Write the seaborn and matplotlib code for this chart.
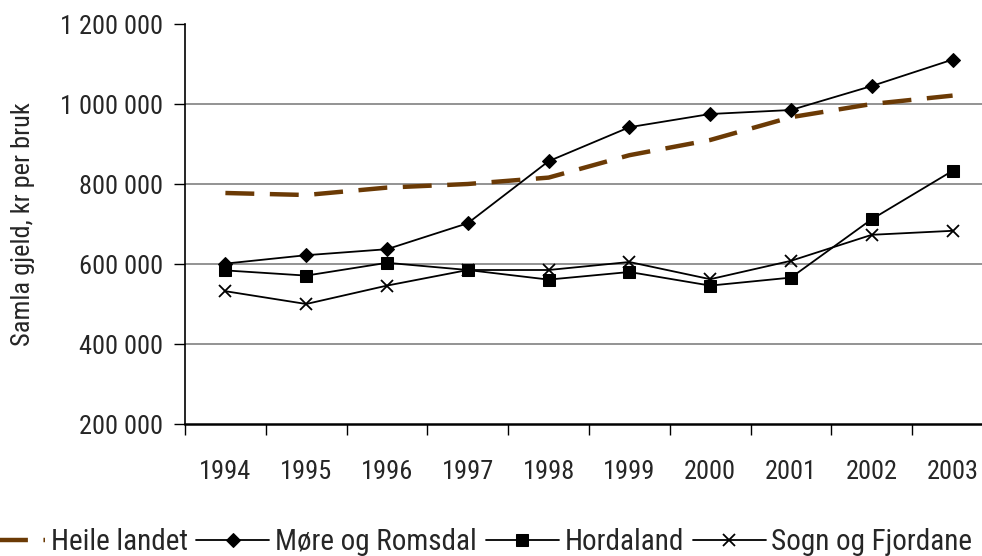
import pandas as pd
import matplotlib
matplotlib.use('Agg')
import matplotlib.pyplot as plt
import matplotlib.ticker as mticker
from matplotlib import font_manager
import seaborn as sns
import numpy as np

years = ['1994', '1995', '1996', '1997', '1998', '1999', '2000', '2001', '2002', '2003']
heile_landet = [777500, 772500, 791000, 800000, 816000, 872000, 910000, 967000, 1000000, 1021000]
more_romsdal = [601000, 622000, 637000, 702000, 857000, 942000, 975000, 985000, 1045000, 1111000]
hordaland = [584000, 571000, 603000, 585000, 561000, 580000, 546000, 566000, 712000, 833000]
sogn_fjordane = [532000, 500000, 546000, 585000, 585000, 605000, 562000, 608000, 673000, 683000]
yticks = [200000, 400000, 600000, 800000, 1000000, 1200000]

# pick a condensed family if one is around
names = {f.name for f in font_manager.fontManager.ttflist}
cands = ['Liberation Sans Narrow', 'Roboto Condensed', 'Open Sans Condensed',
         'DejaVu Sans Condensed', 'Noto Sans Condensed', 'Roboto']
font = next((c for c in cands if c in names), 'DejaVu Sans')
narrow = font != 'Roboto'

sns.set_style('white')
plt.rcParams['font.family'] = [font, 'DejaVu Sans']
if font == 'DejaVu Sans Condensed' or font == 'DejaVu Sans':
    plt.rcParams['font.stretch'] = 'condensed'

fs = 19 if narrow else 17
fs_leg = 21 if narrow else 18
fs_lab = 19 if narrow else 16

df = pd.DataFrame({'x': np.arange(len(years)),
                   'Heile landet': heile_landet,
                   'Møre og Romsdal': more_romsdal,
                   'Hordaland': hordaland,
                   'Sogn og Fjordane': sogn_fjordane})

fig = plt.figure(figsize=(9.82, 5.56), dpi=100)
ax = fig.add_axes([185 / 982, 1 - 424 / 556, 808 / 982, 400 / 556])

sns.lineplot(data=df, x='x', y='Heile landet', ax=ax, color='#6b3a05',
             linewidth=3.2, label='Heile landet')
ax.lines[-1].set_dashes([6.5, 3.5])
sns.lineplot(data=df, x='x', y='Møre og Romsdal', ax=ax, color='black', linewidth=1.3,
             marker='D', markersize=7, markeredgecolor='black', label='Møre og Romsdal')
sns.lineplot(data=df, x='x', y='Hordaland', ax=ax, color='black', linewidth=1.3,
             marker='s', markersize=8, markeredgecolor='black', label='Hordaland')
sns.lineplot(data=df, x='x', y='Sogn og Fjordane', ax=ax, color='black', linewidth=1.3,
             marker='x', markersize=9, markeredgewidth=1.3, markeredgecolor='black',
             label='Sogn og Fjordane')

ax.set_xlim(-0.5, len(years) - 0.5)
ax.set_ylim(200000, 1200000)
ax.set_yticks(yticks)
ax.yaxis.set_major_formatter(mticker.FuncFormatter(lambda v, p: f'{int(v):,}'.replace(',', ' ')))
ax.yaxis.grid(True, color='#808080', linewidth=1.2)
ax.get_ygridlines()[-1].set_visible(False)
ax.get_ygridlines()[0].set_visible(False)

# category boundaries get the tick marks, labels sit in the middle
ax.set_xticks(np.arange(-0.5, len(years), 1.0))
ax.set_xticklabels([])
ax.set_xticks(np.arange(len(years)), minor=True)
ax.set_xticklabels(years, minor=True)
ax.tick_params(axis='x', which='major', length=8, width=1, color='black', direction='out', bottom=True)
ax.tick_params(axis='x', which='minor', length=0, pad=26, labelsize=fs)
ax.tick_params(axis='y', length=8, width=1, color='black', direction='out', left=True, pad=8, labelsize=fs)

for s in ['top', 'right']:
    ax.spines[s].set_visible(False)
ax.spines['left'].set_color('black')
ax.spines['bottom'].set_color('black')
ax.spines['left'].set_linewidth(1.2)
ax.spines['bottom'].set_linewidth(1.8)

ax.set_xlabel('')
ax.set_ylabel('Samla gjeld, kr per bruk', fontsize=fs_lab, labelpad=18)

ax.legend(loc='center left', bbox_to_anchor=(-213 / 808, -0.295), ncol=4, frameon=False,
          fontsize=fs_leg, handlelength=2.5, handletextpad=0.2, columnspacing=0.3,
          borderaxespad=0, borderpad=0)

plt.savefig('out.png', dpi=100)
